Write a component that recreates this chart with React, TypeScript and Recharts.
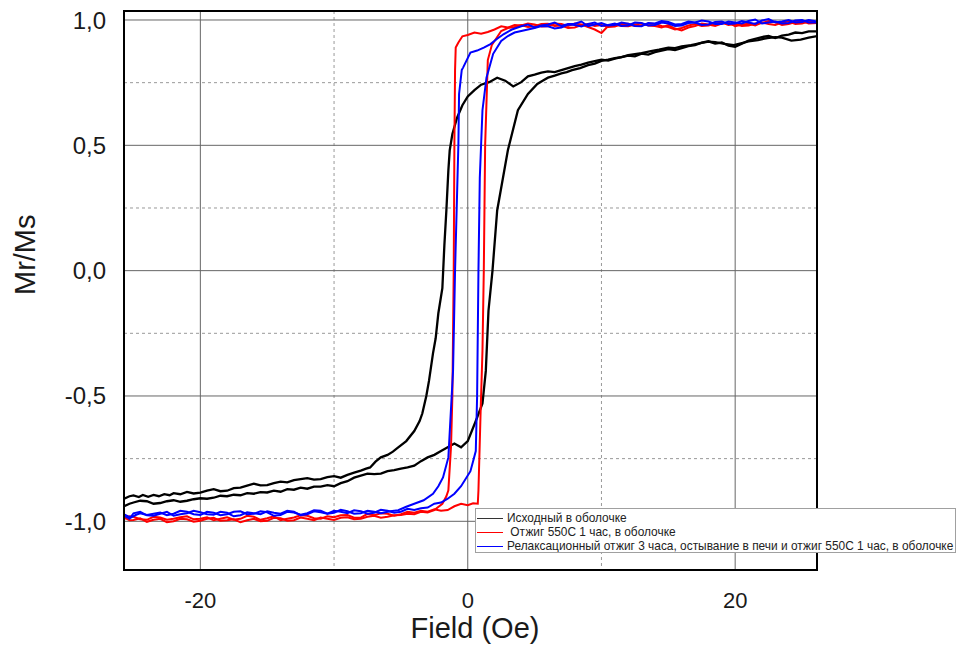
import { LineChart, Line, XAxis, YAxis, CartesianGrid } from "recharts";

type Pt = [number, number];

// field (Oe), Mr/Ms, two branches per loop
const blackDown: Pt[] = [
  [-25.7, -0.91], [-25.3, -0.9], [-25, -0.897], [-24.6, -0.903], [-24.3, -0.895], [-23.9, -0.902],
  [-23.5, -0.895], [-23.1, -0.9], [-22.7, -0.892], [-22.3, -0.896], [-22, -0.888], [-21.5, -0.892],
  [-21, -0.883], [-20.5, -0.889], [-20, -0.886], [-19.5, -0.878], [-19, -0.872], [-18.5, -0.88],
  [-18, -0.878], [-17.5, -0.868], [-17, -0.866], [-16.5, -0.858], [-16, -0.85], [-15.5, -0.857],
  [-15, -0.856], [-14.5, -0.848], [-14, -0.842], [-13.5, -0.845], [-13, -0.836], [-12.5, -0.832],
  [-12, -0.828], [-11.5, -0.834], [-11, -0.832], [-10.5, -0.824], [-10, -0.82], [-9.5, -0.826],
  [-9, -0.815], [-8.5, -0.806], [-8, -0.798], [-7.6, -0.79], [-7.3, -0.785], [-6.9, -0.762],
  [-6.5, -0.745], [-6, -0.735], [-5.6, -0.722], [-5.2, -0.705], [-4.6, -0.68], [-4, -0.64],
  [-3.6, -0.6], [-3.4, -0.57], [-3.1, -0.5], [-2.9, -0.44], [-2.6, -0.33], [-2.4, -0.27],
  [-2.2, -0.17], [-1.9, -0.07], [-1.75, 0.1], [-1.6, 0.24], [-1.45, 0.4], [-1.35, 0.48],
  [-1.15, 0.545], [-0.8, 0.61], [-0.4, 0.66], [0, 0.695], [0.5, 0.72], [1, 0.742], [1.6, 0.752],
  [2.2, 0.77], [2.8, 0.758], [3.4, 0.735], [4, 0.752], [4.5, 0.775], [5, 0.782], [5.5, 0.79],
  [6, 0.795], [6.5, 0.792], [7, 0.8], [7.5, 0.808], [8, 0.816], [8.5, 0.822], [9, 0.83],
  [9.5, 0.836], [10, 0.842], [10.5, 0.838], [11, 0.846], [11.5, 0.852], [12, 0.858], [12.5, 0.855],
  [13, 0.866], [13.5, 0.862], [14, 0.872], [14.5, 0.878], [15, 0.884], [15.5, 0.88], [16, 0.888],
  [16.5, 0.896], [17, 0.9], [17.5, 0.91], [18, 0.915], [18.5, 0.906], [19, 0.91], [19.5, 0.898],
  [20, 0.893], [20.5, 0.905], [21, 0.918], [21.5, 0.925], [22, 0.932], [22.5, 0.936], [23, 0.928],
  [23.5, 0.938], [24, 0.942], [24.5, 0.95], [25, 0.948], [25.5, 0.955], [26.13, 0.955],
];
const blackUp: Pt[] = [
  [-25.7, -0.94], [-25.3, -0.93], [-25, -0.925], [-24.5, -0.918], [-24, -0.92], [-23.5, -0.93],
  [-23, -0.927], [-22.5, -0.92], [-22, -0.916], [-21.5, -0.922], [-21, -0.918], [-20.5, -0.912],
  [-20, -0.908], [-19.5, -0.91], [-19, -0.906], [-18.5, -0.898], [-18, -0.9], [-17.5, -0.894],
  [-17, -0.896], [-16.5, -0.888], [-16, -0.89], [-15.5, -0.884], [-15, -0.885], [-14.5, -0.878],
  [-14, -0.882], [-13.5, -0.872], [-13, -0.874], [-12.5, -0.866], [-12, -0.87], [-11.5, -0.862],
  [-11, -0.862], [-10.5, -0.856], [-10, -0.86], [-9.5, -0.848], [-9, -0.84], [-8.5, -0.826],
  [-8, -0.818], [-7.5, -0.81], [-7, -0.812], [-6.5, -0.81], [-6, -0.8], [-5.5, -0.796],
  [-5, -0.79], [-4.5, -0.785], [-4, -0.778], [-3.5, -0.76], [-3, -0.745], [-2.5, -0.735],
  [-2, -0.72], [-1.5, -0.705], [-1, -0.69], [-0.5, -0.705], [0, -0.68], [0.6, -0.6], [1.1, -0.53],
  [1.35, -0.4], [1.55, -0.16], [1.85, 0], [2.2, 0.24], [3, 0.48], [3.75, 0.64], [4.5, 0.705],
  [5.2, 0.745], [5.6, 0.758], [6, 0.77], [6.5, 0.778], [7, 0.787], [7.4, 0.792], [7.8, 0.8],
  [8.4, 0.808], [9, 0.82], [9.5, 0.826], [10, 0.837], [10.5, 0.842], [11, 0.848], [11.5, 0.852],
  [12, 0.86], [12.5, 0.864], [13, 0.868], [13.7, 0.876], [14.3, 0.882], [15, 0.89], [15.5, 0.888],
  [16, 0.895], [16.7, 0.9], [17.4, 0.908], [18, 0.914], [18.5, 0.912], [19.2, 0.905], [19.9, 0.9],
  [20.5, 0.908], [21, 0.915], [21.7, 0.92], [22.4, 0.928], [23, 0.932], [23.5, 0.93], [24.2, 0.918],
  [24.9, 0.922], [25.5, 0.93], [26.13, 0.936],
];

const redDown: Pt[] = [
  [-25.7, -0.985], [-25.3, -0.996], [-25, -0.995], [-24.5, -0.988], [-24, -1.002], [-23.5, -0.994],
  [-23, -0.99], [-22.5, -1.004], [-22, -1.0], [-21.5, -0.99], [-21, -0.992], [-20.5, -1.002],
  [-20, -0.998], [-19.5, -0.99], [-19, -0.986], [-18.5, -0.998], [-18, -0.996], [-17.5, -0.992],
  [-17, -1.004], [-16.5, -0.996], [-16, -0.99], [-15.5, -1.0], [-15, -0.998], [-14.5, -0.986],
  [-14, -0.988], [-13.5, -0.998], [-13, -0.996], [-12.5, -0.985], [-12, -0.99], [-11.5, -0.996],
  [-11, -0.985], [-10.5, -0.99], [-10, -0.995], [-9.5, -0.986], [-9, -0.984], [-8.5, -0.992],
  [-8, -0.99], [-7.5, -0.982], [-7, -0.978], [-6.5, -0.986], [-6, -0.982], [-5.5, -0.976],
  [-5, -0.975], [-4.5, -0.97], [-4, -0.972], [-3.5, -0.962], [-3, -0.965], [-2.5, -0.955],
  [-1.9, -0.93], [-1.6, -0.9], [-1.45, -0.876], [-1.25, -0.7], [-1.15, -0.5], [-1.05, 0],
  [-1.0, 0.5], [-0.95, 0.8], [-0.9, 0.89], [-0.7, 0.91], [-0.4, 0.935], [0, 0.94], [0.5, 0.95],
  [1, 0.945], [1.5, 0.952], [2, 0.962], [2.5, 0.975], [3, 0.97], [3.5, 0.98], [4, 0.978],
  [4.5, 0.986], [5, 0.982], [5.5, 0.974], [6, 0.975], [6.5, 0.986], [7, 0.984], [7.5, 0.976],
  [8, 0.986], [8.5, 0.982], [9, 0.972], [9.5, 0.962], [10, 0.948], [10.5, 0.976], [11, 0.982],
  [11.5, 0.976], [12, 0.975], [12.5, 0.982], [13, 0.986], [13.5, 0.978], [14, 0.976], [14.5, 0.97],
  [15, 0.98], [15.5, 0.966], [16, 0.958], [16.5, 0.97], [17, 0.976], [17.5, 0.986], [18, 0.982],
  [18.5, 0.976], [19, 0.986], [19.5, 0.99], [20, 0.975], [20.5, 0.982], [21, 0.985], [21.5, 0.978],
  [22, 0.99], [22.5, 0.984], [23, 0.98], [23.5, 0.99], [24, 0.994], [24.5, 0.984], [25, 0.986],
  [25.5, 0.994], [26.13, 0.99],
];
const redUp: Pt[] = [
  [-25.7, -0.99], [-25.3, -0.98], [-25, -0.982], [-24.5, -0.992], [-24, -0.994], [-23.5, -0.982],
  [-23, -0.985], [-22.5, -0.994], [-22, -0.99], [-21.5, -0.984], [-21, -0.98], [-20.5, -0.992],
  [-20, -0.99], [-19.5, -0.984], [-19, -0.996], [-18.5, -0.99], [-18, -0.984], [-17.5, -0.994],
  [-17, -0.99], [-16.5, -0.978], [-16, -0.982], [-15.5, -0.994], [-15, -0.988], [-14.5, -0.98],
  [-14, -0.996], [-13.5, -0.99], [-13, -0.985], [-12.5, -0.976], [-12, -0.978], [-11.5, -0.988],
  [-11, -0.99], [-10.5, -0.98], [-10, -0.984], [-9.5, -0.976], [-9, -0.975], [-8.5, -0.986],
  [-8, -0.985], [-7.5, -0.97], [-7, -0.976], [-6.5, -0.968], [-6, -0.97], [-5.5, -0.978],
  [-5, -0.972], [-4.5, -0.962], [-4, -0.966], [-3.5, -0.958], [-3, -0.962], [-2.5, -0.952],
  [-2, -0.958], [-1.5, -0.955], [-1, -0.94], [-0.5, -0.93], [0, -0.936], [0.4, -0.928],
  [0.75, -0.93], [0.8, -0.876], [0.95, -0.585], [1.1, -0.32], [1.2, 0], [1.3, 0.5], [1.5, 0.84],
  [1.8, 0.9], [2.5, 0.956], [3, 0.968], [3.5, 0.972], [4, 0.98], [4.5, 0.972], [5, 0.975],
  [5.5, 0.984], [6, 0.985], [6.5, 0.976], [7, 0.978], [7.5, 0.968], [8, 0.97], [8.5, 0.98],
  [9, 0.984], [9.5, 0.976], [10, 0.98], [10.5, 0.972], [11, 0.974], [11.5, 0.984], [12, 0.985],
  [12.5, 0.976], [13, 0.978], [13.5, 0.986], [14, 0.984], [14.5, 0.976], [15, 0.972], [15.5, 0.962],
  [16, 0.968], [16.5, 0.978], [17, 0.984], [17.5, 0.976], [18, 0.978], [18.5, 0.986], [19, 0.99],
  [19.5, 0.98], [20, 0.984], [20.5, 0.976], [21, 0.978], [21.5, 0.986], [22, 0.988], [22.5, 0.996],
  [23, 0.992], [23.5, 0.98], [24, 0.984], [24.5, 0.992], [25, 0.996], [25.5, 0.986], [26.13, 0.988],
];

const blueDown: Pt[] = [
  [-25.7, -0.972], [-25.2, -0.985], [-24.8, -0.974], [-24.5, -0.968], [-24, -0.975], [-23.5, -0.97],
  [-23, -0.965], [-22.5, -0.976], [-22, -0.97], [-21.5, -0.958], [-21, -0.962], [-20.5, -0.972],
  [-20, -0.975], [-19.5, -0.962], [-19, -0.966], [-18.5, -0.976], [-18, -0.972], [-17.5, -0.962],
  [-17, -0.96], [-16.5, -0.972], [-16, -0.97], [-15.5, -0.96], [-15, -0.964], [-14.5, -0.978],
  [-14, -0.975], [-13.5, -0.962], [-13, -0.965], [-12.5, -0.974], [-12, -0.968], [-11.5, -0.956],
  [-11, -0.958], [-10.5, -0.97], [-10, -0.966], [-9.5, -0.954], [-9, -0.96], [-8.5, -0.97],
  [-8, -0.968], [-7.5, -0.958], [-7, -0.962], [-6.5, -0.968], [-5.8, -0.96], [-5.2, -0.956],
  [-4.6, -0.942], [-4, -0.93], [-3.3, -0.916], [-2.6, -0.89], [-2.2, -0.86], [-1.85, -0.825],
  [-1.45, -0.745], [-1.1, -0.4], [-0.95, 0], [-0.7, 0.506], [-0.65, 0.705], [-0.45, 0.8],
  [-0.35, 0.81], [0.2, 0.87], [0.7, 0.878], [1.2, 0.89], [1.7, 0.904], [2.2, 0.925], [2.7, 0.944],
  [3.3, 0.962], [4, 0.975], [4.5, 0.982], [5, 0.97], [5.5, 0.978], [6, 0.982], [6.5, 0.99],
  [7, 0.976], [7.5, 0.984], [8, 0.985], [8.5, 0.994], [9, 0.975], [9.5, 0.982], [10, 0.988],
  [10.5, 0.978], [11, 0.98], [11.5, 0.99], [12, 0.985], [12.5, 0.976], [13, 0.975], [13.5, 0.988],
  [14, 0.986], [14.5, 0.996], [15, 0.992], [15.5, 0.982], [16, 0.984], [16.5, 0.994], [17, 0.99],
  [17.5, 0.98], [18, 0.982], [18.5, 0.992], [19, 0.994], [19.5, 0.984], [20, 0.986], [20.5, 0.996],
  [21, 0.99], [21.5, 0.984], [22, 0.998], [22.5, 1.004], [23, 0.99], [23.5, 0.994], [24, 1.0],
  [24.5, 0.99], [25, 0.992], [25.5, 1.0], [26.13, 0.994],
];
const blueUp: Pt[] = [
  [-25.7, -0.978], [-25.3, -0.99], [-25, -0.968], [-24.5, -0.962], [-24, -0.976], [-23.5, -0.978],
  [-23, -0.97], [-22.5, -0.962], [-22, -0.978], [-21.5, -0.972], [-21, -0.968], [-20.5, -0.958],
  [-20, -0.964], [-19.5, -0.972], [-19, -0.974], [-18.5, -0.962], [-18, -0.966], [-17.5, -0.98],
  [-17, -0.976], [-16.5, -0.964], [-16, -0.968], [-15.5, -0.972], [-15, -0.96], [-14.5, -0.966],
  [-14, -0.97], [-13.5, -0.958], [-13, -0.962], [-12.5, -0.976], [-12, -0.972], [-11.5, -0.96],
  [-11, -0.964], [-10.5, -0.97], [-10, -0.958], [-9.5, -0.962], [-9, -0.968], [-8.5, -0.956],
  [-8, -0.96], [-7.5, -0.97], [-7, -0.966], [-6.5, -0.954], [-6, -0.958], [-5.5, -0.966],
  [-5, -0.962], [-4.5, -0.95], [-4, -0.955], [-3.5, -0.948], [-3, -0.945], [-2.5, -0.93],
  [-2, -0.925], [-1.5, -0.91], [-1, -0.89], [-0.5, -0.86], [0.2, -0.8], [0.45, -0.75], [0.6, -0.72],
  [0.7, -0.5], [0.8, 0], [0.9, 0.37], [1.1, 0.64], [1.4, 0.77], [1.9, 0.865], [2.5, 0.916],
  [3, 0.936], [3.5, 0.95], [4, 0.956], [4.5, 0.962], [5, 0.968], [5.5, 0.976], [6, 0.975],
  [6.5, 0.966], [7, 0.97], [7.5, 0.982], [8, 0.98], [8.5, 0.974], [9, 0.984], [9.5, 0.99],
  [10, 0.976], [10.5, 0.98], [11, 0.986], [11.5, 0.976], [12, 0.978], [12.5, 0.99], [13, 0.988],
  [13.5, 0.978], [14, 0.98], [14.5, 0.99], [15, 0.986], [15.5, 0.976], [16, 0.978], [16.5, 0.988],
  [17, 0.99], [17.5, 0.998], [18, 0.994], [18.5, 0.984], [19, 0.984], [19.5, 0.994], [20, 0.99],
  [20.5, 0.986], [21, 0.996], [21.5, 1.002], [22, 0.986], [22.5, 0.99], [23, 0.994], [23.5, 0.986],
  [24, 0.988], [24.5, 0.998], [25, 1.0], [25.5, 0.99], [26.13, 0.99],
];

const xTicks = [-20, 0, 20];
const xMinor = [-10, 10];
const yTicks = [-1, -0.5, 0, 0.5, 1];
const yMinor = [-0.75, -0.25, 0.25, 0.75];

const legendItems = [
  { name: "Исходный в оболочке", color: "#333" },
  { name: " Отжиг 550С 1 час, в оболочке", color: "#f00" },
  { name: "Релаксационный отжиг 3 часа, остывание в печи и отжиг 550С 1 час, в оболочке", color: "#00f" },
];

const branches = [
  { key: "bd", pts: blackDown, color: "#000", w: 2.3 },
  { key: "bu", pts: blackUp, color: "#000", w: 2.3 },
  { key: "rd", pts: redDown, color: "#f00", w: 2 },
  { key: "ru", pts: redUp, color: "#f00", w: 2 },
  { key: "ud", pts: blueDown, color: "#00f", w: 2 },
  { key: "uu", pts: blueUp, color: "#00f", w: 2 },
];

const W = 956;
const H = 658;
const font = "Arial, 'Liberation Sans', sans-serif";

const fmtY = (v: number) => v.toFixed(1).replace(".", ",");

export default function App() {
  return (
    <div style={{ position: "absolute", left: 0, top: 0, width: W, height: H, background: "#fff", fontFamily: font }}>
      <LineChart width={W} height={H} margin={{ top: 11, right: 139, bottom: 48, left: 64 }}>
        <CartesianGrid horizontalValues={yMinor} verticalValues={xMinor} stroke="#999" strokeDasharray="3 3" />
        <CartesianGrid horizontalValues={yTicks} verticalValues={xTicks} stroke="#666" />
        <XAxis
          type="number"
          dataKey="h"
          domain={[-25.71, 26.12]}
          allowDataOverflow
          ticks={xTicks}
          height={40}
          axisLine={false}
          tickLine={false}
          tickSize={0}
          tickMargin={22}
          tick={{ fontSize: 22, fill: "#1a1a1a", fontFamily: font }}
        />
        <YAxis
          type="number"
          dataKey="m"
          domain={[-1.1943, 1.0359]}
          allowDataOverflow
          ticks={yTicks}
          width={60}
          axisLine={false}
          tickLine={false}
          tickSize={0}
          tickMargin={18}
          tickFormatter={fmtY}
          tick={{ fontSize: 24, fill: "#1a1a1a", fontFamily: font }}
        />
        {branches.map((b) => (
          <Line
            key={b.key}
            data={b.pts.map(([h, m]) => ({ h, m }))}
            dataKey="m"
            stroke={b.color}
            strokeWidth={b.w}
            strokeLinejoin="miter"
            dot={false}
            activeDot={false}
            isAnimationActive={false}
          />
        ))}
      </LineChart>

      <div
        style={{
          position: "absolute", left: 123, top: 10, width: 695, height: 561,
          boxSizing: "border-box", border: "2px solid #000", pointerEvents: "none",
        }}
      />

      <div
        style={{
          position: "absolute", left: 0, top: 270, width: 50, textAlign: "center",
          fontSize: 29, color: "#1a1a1a", transform: "translateY(-50%) rotate(-90deg)",
          lineHeight: "50px", whiteSpace: "nowrap",
        }}
      >
        <span style={{ display: "inline-block" }}>Mr/Ms</span>
      </div>
      <div
        style={{
          position: "absolute", left: 375, top: 614, width: 200, textAlign: "center",
          fontSize: 29, lineHeight: "29px", color: "#1a1a1a", whiteSpace: "nowrap",
        }}
      >
        Field (Oe)
      </div>

      <div
        style={{
          position: "absolute", left: 475, top: 508, width: 481, height: 45,
          boxSizing: "border-box", border: "1px solid #a0a0a0", background: "#fff",
          paddingTop: 2, fontSize: 11.9, color: "#222", overflow: "hidden",
        }}
      >
        {legendItems.map((it) => (
          <div key={it.name} style={{ display: "flex", alignItems: "center", height: 14, whiteSpace: "nowrap" }}>
            <span style={{ flex: "0 0 26px", height: 1, background: it.color, marginLeft: 1, marginRight: 4 }} />
            <span style={{ whiteSpace: "pre" }}>{it.name}</span>
          </div>
        ))}
      </div>
    </div>
  );
}
